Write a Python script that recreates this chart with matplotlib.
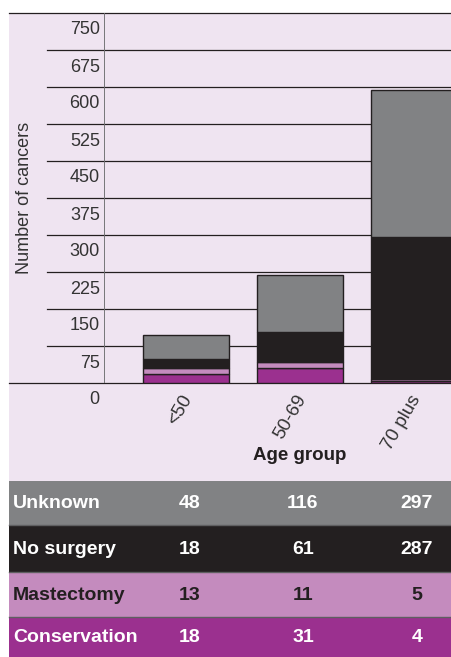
import matplotlib
matplotlib.use("Agg")
import matplotlib.pyplot as plt
from matplotlib.patches import Rectangle
from matplotlib.lines import Line2D
from matplotlib.transforms import blended_transform_factory, ScaledTranslation

plt.rcParams['font.family'] = ['Liberation Sans', 'DejaVu Sans']

# ---- data ----
age_groups = ["<50", "50-69", "70 plus"]
series_names = ["Unknown", "No surgery", "Mastectomy", "Conservation"]
unknown = [48, 116, 297]
no_surgery = [18, 61, 287]
mastectomy = [13, 11, 5]
conservation = [18, 31, 4]
y_ticks = [0, 75, 150, 225, 300, 375, 450, 525, 600, 675, 750]

# ---- style ----
C_BG = "#efe4f1"
C_UNK = "#818284"
C_NOS = "#231f20"
C_MAS = "#c48bbe"
C_CON = "#9b308f"
C_TXT = "#333333"

W, H = 452, 657
DPI = 100
fig = plt.figure(figsize=(W / DPI, H / DPI), dpi=DPI)
fig.patch.set_facecolor("white")

def fx(px):
    return px / W

def fy(py):
    return 1 - py / H

# lavender panel
fig.patches.append(Rectangle((fx(9), fy(481)), fx(452) - fx(9), fy(13) - fy(481),
                             transform=fig.transFigure, facecolor=C_BG,
                             edgecolor="none", zorder=-5))

ax = fig.add_axes([fx(104), fy(383), fx(452) - fx(104), fy(13) - fy(383)])
ax.set_zorder(1)
ax.set_facecolor("none")
ax.set_ylim(0, 750)
ax.set_xlim(-0.719, 2.333)
for s in ax.spines.values():
    s.set_visible(False)

# gridlines
bt = blended_transform_factory(fig.transFigure, ax.transData)
for v in y_ticks:
    x0 = fx(9) if v in (0, 750) else fx(47)
    ax.add_line(Line2D([x0, 1], [v, v], transform=bt, color="#231f20",
                       lw=0.9, clip_on=False, zorder=1))
# y axis line
ax.axvline(-0.719, color="#6d6e70", lw=1.3, zorder=1)

# bars
x = list(range(len(age_groups)))
bw = 0.754
bottom = [0, 0, 0]
for vals, col in [(conservation, C_CON), (mastectomy, C_MAS),
                  (no_surgery, C_NOS), (unknown, C_UNK)]:
    ax.bar(x, vals, width=bw, bottom=bottom, color=col,
           edgecolor="#231f20", linewidth=1.0, zorder=3)
    bottom = [b + v for b, v in zip(bottom, vals)]

# y tick labels
ax.set_yticks(y_ticks)
ax.set_yticklabels([str(v) for v in y_ticks], fontsize=13, color=C_TXT)
ax.tick_params(axis="y", length=0, pad=3)
off = ScaledTranslation(0, -15 / DPI, fig.dpi_scale_trans)
for lab in ax.get_yticklabels():
    lab.set_transform(lab.get_transform() + off)

# x tick labels
ax.set_xticks([])
xoff = ScaledTranslation(10 / DPI, -9 / DPI, fig.dpi_scale_trans)
xt = blended_transform_factory(ax.transData, ax.transAxes) + xoff
for xi, lab in zip(x, age_groups):
    ax.text(xi, 0, lab, rotation=60, ha="right", va="top", fontsize=13.5,
            color=C_TXT, transform=xt)

fig.text(fx(300), fy(455), "Age group", ha="center", va="center",
         fontsize=13.5, fontweight="bold", color="#231f20")
fig.text(fx(25), fy(198), "Number of cancers", rotation=90, ha="center",
         va="center", fontsize=13, color=C_TXT)

# table
rows = [("Unknown", unknown, C_UNK, "white", 481, 525),
        ("No surgery", no_surgery, C_NOS, "white", 525, 572),
        ("Mastectomy", mastectomy, C_MAS, "#231f20", 572, 617),
        ("Conservation", conservation, C_CON, "white", 617, 657)]
col_x = [190, 303, 417]
for name, vals, bg, tc, top, bot in rows:
    fig.patches.append(Rectangle((fx(9), fy(bot)), fx(452) - fx(9), fy(top) - fy(bot),
                                 transform=fig.transFigure, facecolor=bg,
                                 edgecolor="none", zorder=0))
    yc = fy((top + bot) / 2 + 1)
    fig.text(fx(13), yc, name, ha="left", va="center", fontsize=14,
             fontweight="bold", color=tc)
    for cx, v in zip(col_x, vals):
        fig.text(fx(cx), yc, str(v), ha="center", va="center", fontsize=14,
                 fontweight="bold", color=tc)
for yy in [525, 572, 617]:
    fig.lines.append(Line2D([fx(9), 1], [fy(yy), fy(yy)], transform=fig.transFigure,
                            color="#5f5f61", lw=1.0))

fig.savefig("out.png", dpi=DPI, facecolor="white")
